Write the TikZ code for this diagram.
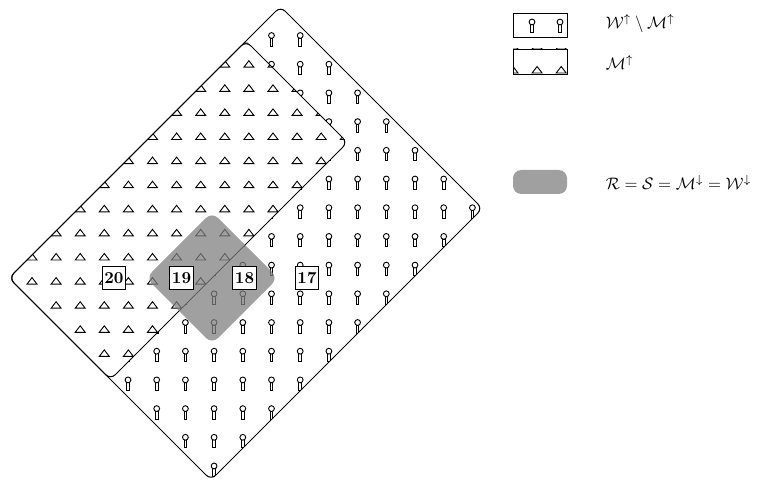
\documentclass[tikz,border=0pt]{standalone}
\usepackage{amsmath}
\usepackage{amssymb}
\usetikzlibrary{calc}

\begin{document}
\begin{tikzpicture}[x=0.6pt,y=-0.6pt,
  pinmark/.pic={
    \draw[line width=0.55pt,fill=white] (-1.3,2.6) rectangle (1.3,10.5);
    \draw[line width=0.55pt,fill=white] (0,0) circle[radius=2.9];
  },
  trimark/.pic={
    \draw[line width=0.55pt,line join=miter] (-5,3) -- (5,3) -- (0,-3.5) -- cycle;
  },
  numbox/.style={draw,fill=white,font=\bfseries,line width=0.5pt,
    inner sep=1pt,minimum size=14pt},
  edge/.style={line width=0.6pt,rounded corners=4pt},
  shade/.style={fill=gray,fill opacity=0.75,rounded corners=5pt}]
\useasboundingbox (0,0) rectangle (757,482);

% corners of W (outer) and M (inner), both turned by 45 degrees
\coordinate (wT) at (280.5,6.5);
\coordinate (wR) at (482.5,208.5);
\coordinate (wB) at (211,480);
\coordinate (wL) at (9,278);
\coordinate (mT) at (246,41);
\coordinate (mR) at (347.5,142.5);
\coordinate (mB) at (110.5,379.5);

% corners of the shaded square
\coordinate (rT) at (212,212);
\coordinate (rR) at (278,278);
\coordinate (rB) at (212,344);
\coordinate (rL) at (146,278);

% pins in W minus M
\begin{scope}
\clip (mT) -- (wT) -- (wR) -- (wB) -- (mB) -- (mR) -- cycle;
\foreach \i in {-9,...,7}
  \foreach \j in {0,...,15}
    \pic at ({271.5+28.7*\i},{35.5+28.7*\j}) {pinmark};
\end{scope}

% triangles in M
\begin{scope}
\clip (wL) -- (mT) -- (mR) -- (mB) -- cycle;
\foreach \i in {-1,...,13}
  \foreach \j in {-1,...,13}
    \pic at ({32+24.1*\i},{64.2+24.1*\j}) {trimark};
\end{scope}

% outlines
\draw[edge] ($(wT)!0.5!(wR)$) -- (wR) -- (wB) -- (wL) -- (wT) -- cycle;
\draw[edge] ($(mT)!0.5!(mR)$) -- (mR) -- (mB) -- (wL) -- (mT) -- cycle;

% the shaded square R
\path[shade] ($(rT)!0.5!(rR)$) -- (rR) -- (rB) -- (rL) -- (rT) -- cycle;

% numbered boxes
\node[numbox] (n20) at (114,278) {20};
\node[numbox] (n19) at (181.5,278) {19};
\node[numbox] (n18) at (244.5,278) {18};
\node[numbox] (n17) at (307,278) {17};

% legend
\draw[line width=0.5pt] (513,13) rectangle (567,37);
\pic at (532,22) {pinmark};
\pic at (560,22) {pinmark};
\begin{scope}
\clip (513,49) rectangle (567,74);
\foreach \i in {0,1,2}
  \pic at ({513+24.1*\i},70) {trimark};
\foreach \i in {0,1,2}
  \pic at ({513+24.1*\i},46) {trimark};
\end{scope}
\draw[line width=0.5pt] (513,49) rectangle (567,74);
\path[shade] (513,170) rectangle (567,194);

\node[anchor=west] (lw) at (600,24) {$\mathcal{W}^{\uparrow}\setminus\mathcal{M}^{\uparrow}$};
\node[anchor=west] (lm) at (600,62) {$\mathcal{M}^{\uparrow}$};
\node[anchor=west] (lr) at (600,182)
  {$\mathcal{R}=\mathcal{S}=\mathcal{M}^{\downarrow}=\mathcal{W}^{\downarrow}$};
\end{tikzpicture}
\end{document}
